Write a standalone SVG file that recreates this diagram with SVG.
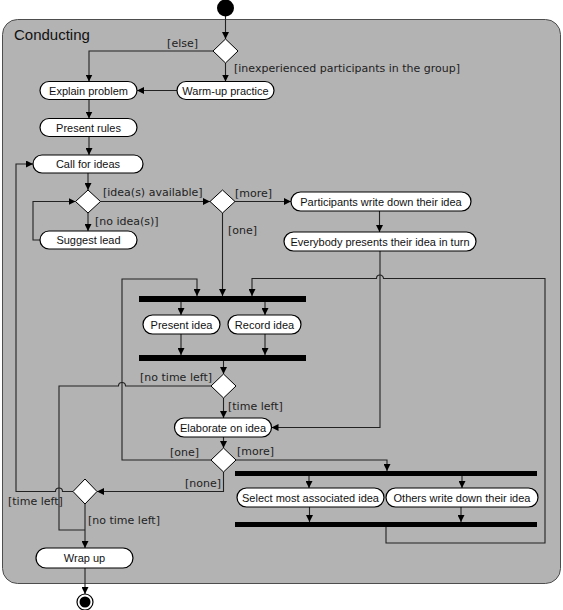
<svg xmlns="http://www.w3.org/2000/svg" width="563" height="610" viewBox="0 0 563 610">
<defs>
<marker id="arr" viewBox="0 0 10 10" refX="10" refY="5" markerWidth="7" markerHeight="7" markerUnits="userSpaceOnUse" orient="auto">
<path d="M0,0 L10,5 L0,10 z" fill="#000"/>
</marker>
<style>
.box{fill:#fff;stroke:#000;stroke-width:1.2}
.dia{fill:#fff;stroke:#000;stroke-width:1}
.bar{fill:#000}
.bt{font-family:"Liberation Sans",Arial,sans-serif;font-size:11px;fill:#111;text-anchor:middle}
.lb{font-family:"DejaVu Sans",sans-serif;font-size:11px;fill:#222}
.end{text-anchor:end}
.c{fill:none;stroke:#222;stroke-width:1.1}
.a{marker-end:url(#arr)}
</style>
</defs>
<rect x="0" y="0" width="563" height="610" fill="#fff"/>
<g id="conducting">
<rect x="2.5" y="19.5" width="558" height="564" rx="15" fill="#b3b3b3" stroke="#4d4d4d" stroke-width="1"/>
<text x="14" y="40" font-family="Liberation Sans, Arial, sans-serif" font-size="15" fill="#111">Conducting</text>
</g>
<g id="connectors">
<path class="c a" d="M225.5,16 V39"/>
<path class="c a" d="M213,51 H89 V81.5"/>
<path class="c a" d="M225.5,63 V81.5"/>
<path class="c a" d="M177,90.5 H137"/>
<path class="c a" d="M89,99.5 V118.5"/>
<path class="c a" d="M89,136.5 V155"/>
<path class="c a" d="M88,173 V190"/>
<path class="c a" d="M88,213 V231"/>
<path class="c a" d="M40,240 H33 V201.5 H75.5"/>
<path class="c a" d="M100.5,201.5 H210"/>
<path class="c a" d="M235,201.5 H291"/>
<path class="c a" d="M379.5,211 V232"/>
<path class="c a" d="M222.5,213 V296"/>
<path class="c a" d="M380,251 V427.5 H271.5"/>
<path class="c a" d="M181,302 V315"/>
<path class="c a" d="M265,302 V315"/>
<path class="c a" d="M181,334 V355"/>
<path class="c a" d="M265,334 V355"/>
<path class="c a" d="M223.5,361 V374"/>
<path class="c a" d="M223.5,398 V418"/>
<path class="c" d="M211,386 H125.5 A3.5 3.5 0 0 0 118.5,386 H59 V530 H85"/>
<path class="c a" d="M223.5,437 V448"/>
<path class="c a" d="M211,460 H122 V279 H197 V296"/>
<path class="c a" d="M236,460 H387 V471"/>
<path class="c a" d="M223.5,472 V491.5 H97"/>
<path class="c a" d="M73,491.5 H62.5 A3.5 3.5 0 0 0 55.5,491.5 H16 V164 H33"/>
<path class="c a" d="M85,504 V548"/>
<path class="c a" d="M309,476 V488"/>
<path class="c a" d="M462,476 V488"/>
<path class="c a" d="M309.5,507 V522"/>
<path class="c a" d="M461,507 V522"/>
<path class="c a" d="M386,527 V543 H545 V278.5 H383.5 A3.5 3.5 0 0 0 376.5,278.5 H252 V296"/>
<path class="c a" d="M85,568 V594"/>
</g>
<g id="start"><circle cx="225.5" cy="8" r="8.5" fill="#000"/></g>
<g id="end"><circle cx="85" cy="602" r="8" fill="#fff" stroke="#000" stroke-width="1.2"/><circle cx="85" cy="602" r="5.5" fill="#000"/></g>
<g id="d1"><polygon class="dia" points="225.5,39 238,51 225.5,63 213,51"/></g>
<g id="d2"><polygon class="dia" points="88,190 100.5,201.5 88,213 75.5,201.5"/></g>
<g id="d3"><polygon class="dia" points="222.5,190 235,201.5 222.5,213 210,201.5"/></g>
<g id="d4"><polygon class="dia" points="223.5,374 236,386 223.5,398 211,386"/></g>
<g id="d6"><polygon class="dia" points="223.5,448 236,460 223.5,472 211,460"/></g>
<g id="d5"><polygon class="dia" points="85,479 97,491.5 85,504 73,491.5"/></g>
<g id="explain"><rect class="box" x="40" y="81.5" width="97" height="18" rx="9"/><text class="bt" x="88.5" y="94.5">Explain problem</text></g>
<g id="warmup"><rect class="box" x="177" y="81.5" width="97" height="18" rx="9"/><text class="bt" x="225.5" y="94.5">Warm-up practice</text></g>
<g id="rules"><rect class="box" x="40" y="118.5" width="97" height="18" rx="9"/><text class="bt" x="88.5" y="131.5">Present rules</text></g>
<g id="call"><rect class="box" x="33" y="155" width="110" height="18" rx="9"/><text class="bt" x="88" y="168">Call for ideas</text></g>
<g id="suggest"><rect class="box" x="40" y="231" width="97" height="18" rx="9"/><text class="bt" x="88.5" y="244">Suggest lead</text></g>
<g id="writedown"><rect class="box" x="291" y="192" width="180" height="19" rx="9.5"/><text class="bt" x="381" y="205.5">Participants write down their idea</text></g>
<g id="everybody"><rect class="box" x="284" y="232" width="192" height="19" rx="9.5"/><text class="bt" x="380" y="245.5">Everybody presents their idea in turn</text></g>
<g id="bar1"><rect class="bar" x="139" y="296" width="167" height="6"/></g>
<g id="present"><rect class="box" x="143" y="315" width="77" height="19" rx="9.5"/><text class="bt" x="181.5" y="328.5">Present idea</text></g>
<g id="record"><rect class="box" x="228" y="315" width="73" height="19" rx="9.5"/><text class="bt" x="264.5" y="328.5">Record idea</text></g>
<g id="bar2"><rect class="bar" x="139" y="355" width="167" height="6"/></g>
<g id="elaborate"><rect class="box" x="174.5" y="418" width="97" height="19" rx="9.5"/><text class="bt" x="223" y="431.5">Elaborate on idea</text></g>
<g id="bar3"><rect class="bar" x="235" y="471" width="302" height="5"/></g>
<g id="select"><rect class="box" x="237" y="488" width="147" height="19" rx="9.5"/><text class="bt" x="310.5" y="501.5">Select most associated idea</text></g>
<g id="others"><rect class="box" x="386" y="488" width="152" height="19" rx="9.5"/><text class="bt" x="462" y="501.5">Others write down their idea</text></g>
<g id="bar4"><rect class="bar" x="235" y="522" width="302" height="5"/></g>
<g id="wrapup"><rect class="box" x="36" y="548" width="97" height="20" rx="10"/><text class="bt" x="84.5" y="562">Wrap up</text></g>
<g id="labels">
<text class="lb end" x="198" y="47">[else]</text>
<text class="lb" x="234" y="72">[inexperienced participants in the group]</text>
<text class="lb" x="103" y="196">[idea(s) available]</text>
<text class="lb" x="235" y="197">[more]</text>
<text class="lb" x="95" y="225">[no idea(s)]</text>
<text class="lb" x="228" y="234">[one]</text>
<text class="lb end" x="212" y="381">[no time left]</text>
<text class="lb" x="228" y="410">[time left]</text>
<text class="lb end" x="199" y="456">[one]</text>
<text class="lb" x="237" y="455">[more]</text>
<text class="lb end" x="221" y="487">[none]</text>
<text class="lb" x="8" y="505">[time left]</text>
<text class="lb" x="88" y="524">[no time left]</text>
</g>
</svg>
